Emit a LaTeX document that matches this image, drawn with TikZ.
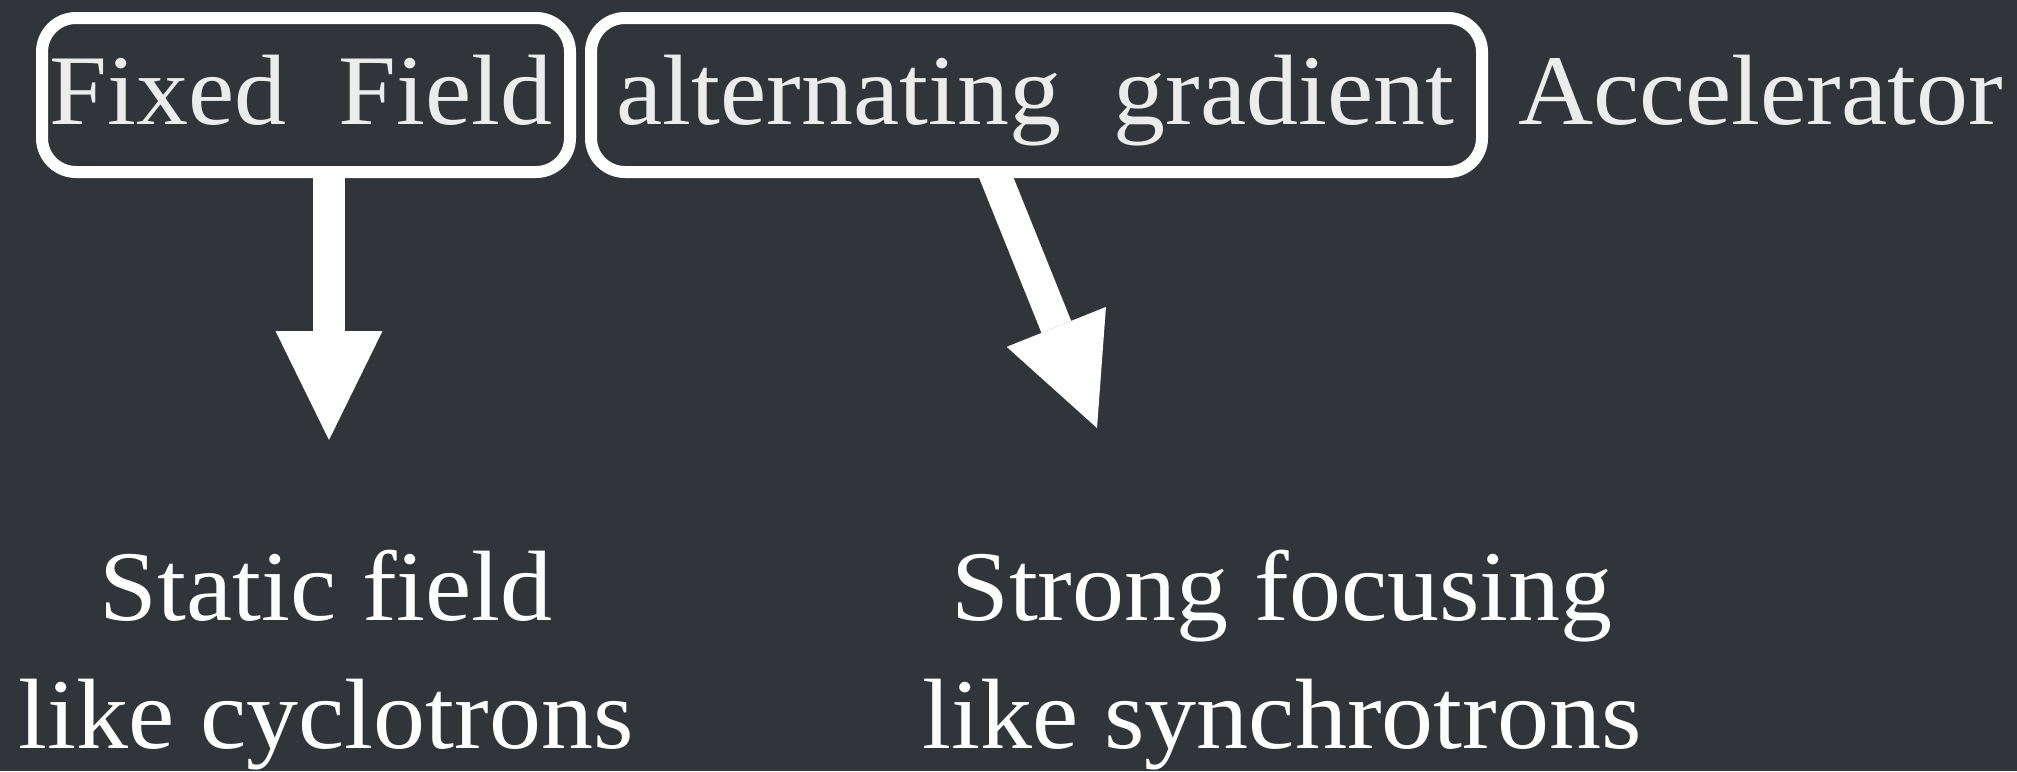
\documentclass[tikz,border=0pt]{standalone}
\usepackage{fontspec}
\setmainfont{Liberation Serif}[FakeStretch=1.04]
\usetikzlibrary{arrows.meta}
\definecolor{bg}{RGB}{49,52,57}
\definecolor{toptext}{RGB}{236,236,236}
\tikzset{
  big/.style={font=\fontsize{100}{128}\selectfont, inner sep=0pt},
  boxed/.style={draw=white, line width=12pt, rounded corners=34pt, inner sep=0pt},
  fatarrow/.style={draw=white, line width=32pt,
    -{Triangle[length=109pt,width=107pt,line width=0pt,fill=white]}},
}
\begin{document}
\begin{tikzpicture}[x=1pt,y=-1pt]
\useasboundingbox[fill=bg] (0,0) rectangle (2017,771);
% boxes
\node[boxed, minimum width=528pt, minimum height=154pt] (box1) at (306,95) {};
\node[boxed, minimum width=891pt, minimum height=154pt] (box2) at (1036.5,95) {};
% top texts
\node[big, text=toptext, anchor=base] (ff) at (301,124) {Fixed\ \ Field};
\node[big, text=toptext, anchor=base] (ag) at (1035.5,124) {alternating\ \ gradient};
\node[big, text=toptext, anchor=base west] (acc) at (1518,124) {Accelerator};
% bottom texts
\node[big, text=white, align=center, anchor=base] (sf) at (326,748) {Static field\\like cyclotrons};
\node[big, text=white, align=center, anchor=base] (sg) at (1282,748) {Strong focusing\\like synchrotrons};
% arrows
\coordinate (t1) at (329,440);
\coordinate (s2) at (994,172);
\coordinate (t2) at (1097,428);
\draw[fatarrow] (box1.south -| t1) -- (t1);
\draw[fatarrow] (s2) -- (t2);
\end{tikzpicture}
\end{document}
